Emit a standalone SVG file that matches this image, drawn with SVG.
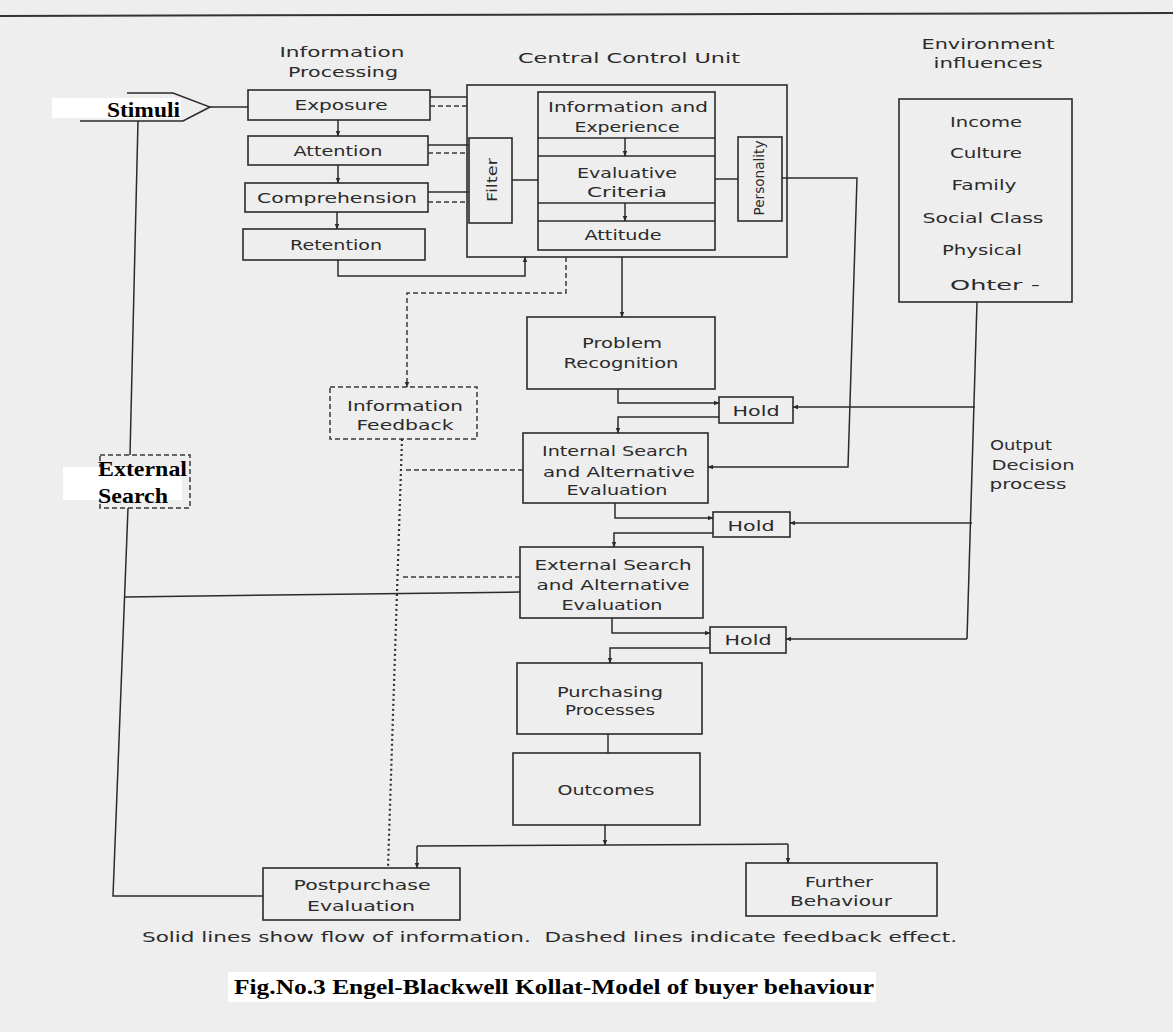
<svg xmlns="http://www.w3.org/2000/svg" width="1173" height="1032" viewBox="0 0 1173 1032">
<defs>
<style>
.bg{fill:#eeeeee}
.box{fill:none;stroke:#2b2b2b;stroke-width:1.6}
.dbox{fill:none;stroke:#3a3a3a;stroke-width:1.5;stroke-dasharray:5 3}
.ln{fill:none;stroke:#2b2b2b;stroke-width:1.5}
.dash{fill:none;stroke:#3a3a3a;stroke-width:1.5;stroke-dasharray:5 3}
.dot{fill:none;stroke:#333333;stroke-width:2.2;stroke-dasharray:2 3}
.t{font-family:"DejaVu Sans",sans-serif;font-size:14px;fill:#2b2b2b;text-anchor:middle;dominant-baseline:central}
.lbl{font-family:"Liberation Serif",serif;font-weight:bold;font-size:22px;fill:#000}
.wb{fill:#ffffff}
</style>
<marker id="ar" viewBox="0 0 10 10" refX="9" refY="5" markerWidth="6" markerHeight="6" orient="auto" markerUnits="userSpaceOnUse">
<path d="M0,1 L10,5 L0,9 z" fill="#2b2b2b"/>
</marker>
</defs>
<rect class="bg" x="0" y="0" width="1173" height="1032"/>
<line x1="0" y1="16" x2="1173" y2="13" stroke="#333" stroke-width="2"/>

<g id="headings">
<text class="t" x="342" y="52" textLength="125" lengthAdjust="spacingAndGlyphs">Information</text>
<text class="t" x="343" y="72" textLength="110" lengthAdjust="spacingAndGlyphs">Processing</text>
<text class="t" x="629" y="58" textLength="222" lengthAdjust="spacingAndGlyphs">Central Control Unit</text>
<text class="t" x="988" y="44" textLength="133" lengthAdjust="spacingAndGlyphs">Environment</text>
<text class="t" x="988" y="63" textLength="109" lengthAdjust="spacingAndGlyphs">influences</text>
</g>

<g id="stimuli">
<polyline class="ln" points="127,93 173,93 210,107 183,121 80,121"/>
<rect class="wb" x="52" y="98" width="129" height="20"/>
<text class="lbl" x="107" y="117" textLength="73" lengthAdjust="spacingAndGlyphs">Stimuli</text>
</g>

<g id="exposure"><rect class="box" x="248" y="90" width="182" height="30"/><text class="t" x="341" y="105" textLength="93" lengthAdjust="spacingAndGlyphs">Exposure</text></g>
<g id="attention"><rect class="box" x="248" y="136" width="180" height="29"/><text class="t" x="338" y="151" textLength="89" lengthAdjust="spacingAndGlyphs">Attention</text></g>
<g id="comprehension"><rect class="box" x="245" y="183" width="183" height="29"/><text class="t" x="337" y="198" textLength="160" lengthAdjust="spacingAndGlyphs">Comprehension</text></g>
<g id="retention"><rect class="box" x="243" y="229" width="182" height="31"/><text class="t" x="336" y="245" textLength="92" lengthAdjust="spacingAndGlyphs">Retention</text></g>

<g id="central-control-unit">
<rect class="box" x="467" y="85" width="320" height="172"/>
</g>
<g id="filter"><rect class="box" x="469" y="138" width="43" height="85"/><text class="t" transform="translate(492,180) rotate(-90)" x="0" y="0" textLength="44" lengthAdjust="spacingAndGlyphs">Filter</text></g>
<g id="core">
<rect class="box" x="538" y="92" width="177" height="158"/>
<line class="ln" x1="538" y1="138" x2="715" y2="138"/>
<line class="ln" x1="538" y1="156" x2="715" y2="156"/>
<line class="ln" x1="538" y1="203" x2="715" y2="203"/>
<line class="ln" x1="538" y1="221" x2="715" y2="221"/>
</g>
<g id="information-experience"><text class="t" x="628" y="107" textLength="160" lengthAdjust="spacingAndGlyphs">Information and</text><text class="t" x="627" y="127" textLength="105" lengthAdjust="spacingAndGlyphs">Experience</text></g>
<g id="evaluative-criteria"><text class="t" x="627" y="173" textLength="100" lengthAdjust="spacingAndGlyphs">Evaluative</text><text class="t" x="627" y="192" textLength="80" lengthAdjust="spacingAndGlyphs">Criteria</text></g>
<g id="attitude"><text class="t" x="623" y="235" textLength="77" lengthAdjust="spacingAndGlyphs">Attitude</text></g>
<g id="personality"><rect class="box" x="738" y="137" width="44" height="84"/><text class="t" transform="translate(759,178) rotate(-90)" x="0" y="0" textLength="75" lengthAdjust="spacingAndGlyphs">Personality</text></g>

<g id="environment">
<rect class="box" x="899" y="99" width="173" height="203"/>
<text class="t" x="986" y="122" textLength="72" lengthAdjust="spacingAndGlyphs">Income</text>
<text class="t" x="986" y="153" textLength="72" lengthAdjust="spacingAndGlyphs">Culture</text>
<text class="t" x="984" y="185" textLength="65" lengthAdjust="spacingAndGlyphs">Family</text>
<text class="t" x="983" y="218" textLength="121" lengthAdjust="spacingAndGlyphs">Social Class</text>
<text class="t" x="982" y="250" textLength="80" lengthAdjust="spacingAndGlyphs">Physical</text>
<text class="t" x="995" y="285" textLength="90" lengthAdjust="spacingAndGlyphs">Ohter  -</text>
</g>

<g id="problem-recognition"><rect class="box" x="527" y="317" width="188" height="72"/><text class="t" x="622" y="343" textLength="80" lengthAdjust="spacingAndGlyphs">Problem</text><text class="t" x="621" y="363" textLength="115" lengthAdjust="spacingAndGlyphs">Recognition</text></g>

<g id="information-feedback"><rect class="dbox" x="330" y="387" width="147" height="52"/><text class="t" x="405" y="406" textLength="116" lengthAdjust="spacingAndGlyphs">Information</text><text class="t" x="405" y="425" textLength="97" lengthAdjust="spacingAndGlyphs">Feedback</text></g>

<g id="hold-1"><rect class="box" x="719" y="397" width="74" height="26"/><text class="t" x="756" y="411" textLength="47" lengthAdjust="spacingAndGlyphs">Hold</text></g>

<g id="internal-search"><rect class="box" x="523" y="433" width="185" height="70"/><text class="t" x="615" y="451" textLength="146" lengthAdjust="spacingAndGlyphs">Internal Search</text><text class="t" x="619" y="472" textLength="152" lengthAdjust="spacingAndGlyphs">and Alternative</text><text class="t" x="617" y="490" textLength="101" lengthAdjust="spacingAndGlyphs">Evaluation</text></g>

<g id="output-decision"><text class="t" x="1021" y="445" textLength="62" lengthAdjust="spacingAndGlyphs">Output</text><text class="t" x="1033" y="465" textLength="83" lengthAdjust="spacingAndGlyphs">Decision</text><text class="t" x="1028" y="484" textLength="77" lengthAdjust="spacingAndGlyphs">process</text></g>

<g id="external-search-left">
<rect class="dbox" x="100" y="455" width="90" height="53"/>
<rect class="wb" x="63" y="467" width="119" height="33"/>
<text class="lbl" x="98" y="476" textLength="89" lengthAdjust="spacingAndGlyphs">External</text>
<text class="lbl" x="98" y="503" textLength="70" lengthAdjust="spacingAndGlyphs">Search</text>
</g>

<g id="hold-2"><rect class="box" x="713" y="512" width="77" height="25"/><text class="t" x="751" y="526" textLength="47" lengthAdjust="spacingAndGlyphs">Hold</text></g>

<g id="external-search"><rect class="box" x="520" y="547" width="183" height="71"/><text class="t" x="613" y="565" textLength="157" lengthAdjust="spacingAndGlyphs">External Search</text><text class="t" x="613" y="585" textLength="153" lengthAdjust="spacingAndGlyphs">and Alternative</text><text class="t" x="612" y="605" textLength="101" lengthAdjust="spacingAndGlyphs">Evaluation</text></g>

<g id="hold-3"><rect class="box" x="710" y="627" width="76" height="26"/><text class="t" x="748" y="640" textLength="47" lengthAdjust="spacingAndGlyphs">Hold</text></g>

<g id="purchasing"><rect class="box" x="517" y="663" width="185" height="71"/><text class="t" x="610" y="692" textLength="106" lengthAdjust="spacingAndGlyphs">Purchasing</text><text class="t" x="610" y="710" textLength="90" lengthAdjust="spacingAndGlyphs">Processes</text></g>

<g id="outcomes"><rect class="box" x="513" y="753" width="187" height="72"/><text class="t" x="606" y="790" textLength="97" lengthAdjust="spacingAndGlyphs">Outcomes</text></g>

<g id="postpurchase"><rect class="box" x="263" y="868" width="197" height="52"/><text class="t" x="362" y="885" textLength="137" lengthAdjust="spacingAndGlyphs">Postpurchase</text><text class="t" x="361" y="906" textLength="108" lengthAdjust="spacingAndGlyphs">Evaluation</text></g>

<g id="further-behaviour"><rect class="box" x="746" y="863" width="191" height="53"/><text class="t" x="839" y="882" textLength="68" lengthAdjust="spacingAndGlyphs">Further</text><text class="t" x="841" y="901" textLength="102" lengthAdjust="spacingAndGlyphs">Behaviour</text></g>

<g id="connectors">
<line class="ln" x1="210" y1="107" x2="248" y2="107"/>
<line class="ln" x1="338" y1="120" x2="338" y2="136" marker-end="url(#ar)"/>
<line class="ln" x1="338" y1="165" x2="338" y2="183" marker-end="url(#ar)"/>
<line class="ln" x1="337" y1="212" x2="337" y2="229" marker-end="url(#ar)"/>
<line class="ln" x1="430" y1="97" x2="467" y2="97"/>
<line class="dash" x1="430" y1="106" x2="467" y2="106"/>
<line class="ln" x1="428" y1="145" x2="469" y2="145"/>
<line class="dash" x1="428" y1="153" x2="469" y2="153"/>
<line class="ln" x1="428" y1="192" x2="469" y2="192"/>
<line class="dash" x1="428" y1="202" x2="469" y2="202"/>
<line class="ln" x1="512" y1="180" x2="538" y2="180"/>
<line class="ln" x1="625" y1="138" x2="625" y2="156" marker-end="url(#ar)"/>
<line class="ln" x1="625" y1="203" x2="625" y2="221" marker-end="url(#ar)"/>
<line class="ln" x1="715" y1="179" x2="738" y2="179"/>
<polyline class="ln" points="782,178 857,178 848,467 708,467" marker-end="url(#ar)"/>
<polyline class="ln" points="338,260 338,276 525,276 525,257" marker-end="url(#ar)"/>
<polyline class="dash" points="566,257 566,293 407,293 407,387" marker-end="url(#ar)"/>
<line class="ln" x1="622" y1="257" x2="622" y2="317" marker-end="url(#ar)"/>
<polyline class="ln" points="618,389 618,403 719,403" marker-end="url(#ar)"/>
<polyline class="ln" points="719,417 618,417 618,433" marker-end="url(#ar)"/>
<line class="ln" x1="977" y1="302" x2="967" y2="639"/>
<line class="ln" x1="975" y1="407" x2="793" y2="407" marker-end="url(#ar)"/>
<polyline class="ln" points="615,503 615,518 713,518" marker-end="url(#ar)"/>
<polyline class="ln" points="713,533 614,533 614,547" marker-end="url(#ar)"/>
<line class="ln" x1="972" y1="523" x2="790" y2="523" marker-end="url(#ar)"/>
<polyline class="ln" points="612,618 612,633 710,633" marker-end="url(#ar)"/>
<line class="ln" x1="967" y1="639" x2="786" y2="639" marker-end="url(#ar)"/>
<polyline class="ln" points="710,648 610,648 610,663" marker-end="url(#ar)"/>
<line class="ln" x1="608" y1="734" x2="608" y2="753"/>
<line class="ln" x1="605" y1="825" x2="605" y2="845" marker-end="url(#ar)"/>
<line class="ln" x1="417" y1="846" x2="788" y2="844"/>
<line class="ln" x1="417" y1="846" x2="417" y2="868" marker-end="url(#ar)"/>
<line class="ln" x1="788" y1="844" x2="788" y2="863" marker-end="url(#ar)"/>
<polyline class="ln" points="263,896 113,896 128,508"/>
<line class="ln" x1="130" y1="455" x2="138" y2="121"/>
<line class="ln" x1="125" y1="597" x2="520" y2="592"/>
<line class="dot" x1="402" y1="439" x2="388" y2="868"/>
<line class="dash" x1="523" y1="470" x2="403" y2="470"/>
<line class="dash" x1="520" y1="577" x2="400" y2="577"/>
</g>

<g id="captions">
<text x="142" y="942" font-family="DejaVu Sans, sans-serif" font-size="14" fill="#2b2b2b" textLength="815" lengthAdjust="spacingAndGlyphs" xml:space="preserve">Solid lines show flow of information.  Dashed lines indicate feedback effect.</text>
<rect class="wb" x="228" y="972" width="648" height="30"/>
<text class="lbl" x="234" y="994" textLength="640" lengthAdjust="spacingAndGlyphs">Fig.No.3 Engel-Blackwell Kollat-Model of buyer behaviour</text>
</g>
</svg>
